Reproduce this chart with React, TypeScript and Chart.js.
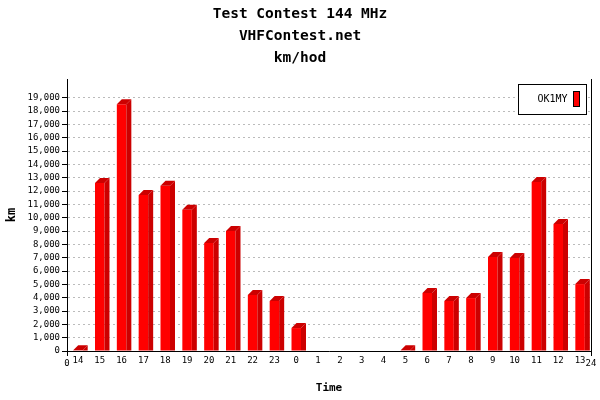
import React, { useEffect, useRef } from 'react';
import { Chart, registerables } from 'chart.js';

Chart.register(...registerables);

const titleLines = ['Test Contest 144 MHz', 'VHFContest.net', 'km/hod'];
const hours = ['14', '15', '16', '17', '18', '19', '20', '21', '22', '23', '0', '1', '2', '3', '4', '5', '6', '7', '8', '9', '10', '11', '12', '13'];
const kmPerHour = [50, 12600, 18500, 11700, 12400, 10600, 8100, 9000, 4200, 3750, 1720, 0, 0, 0, 0, 50, 4350, 3750, 3970, 7050, 6970, 12670, 9520, 5020];
const seriesName = 'OK1MY';
const xTitle = 'Time';
const yTitle = 'km';
const axisEndLabels = ['0', '24'];
const yMax = 20400;
const yStep = 1000;
const yTickMax = 19000;

const MONO = '"DejaVu Sans Mono", monospace';
const FRONT = '#ff0000';
const SIDE = '#cc0000';

const bar3d = {
  id: 'bar3d',
  afterDatasetsDraw(chart: any) {
    const ctx = chart.ctx;
    const meta = chart.getDatasetMeta(0);
    const values = chart.data.datasets[0].data;
    const d = 5;
    ctx.save();
    ctx.fillStyle = SIDE;
    meta.data.forEach((el: any, i: number) => {
      if (!values[i]) return;
      const { x, y, base, width } = el.getProps(['x', 'y', 'base', 'width'], true);
      const l = x - width / 2;
      const r = x + width / 2;
      ctx.beginPath();
      ctx.moveTo(r, y);
      ctx.lineTo(r + d, y - d);
      ctx.lineTo(r + d, base);
      ctx.lineTo(r, base);
      ctx.closePath();
      ctx.fill();
      ctx.beginPath();
      ctx.moveTo(l, y);
      ctx.lineTo(l + d, y - d);
      ctx.lineTo(r + d, y - d);
      ctx.lineTo(r, y);
      ctx.closePath();
      ctx.fill();
    });
    ctx.restore();
  },
};

const frame = {
  id: 'frame',
  afterDraw(chart: any) {
    const ctx = chart.ctx;
    const { left, right, top, bottom } = chart.chartArea;
    ctx.save();
    ctx.strokeStyle = '#000';
    ctx.lineWidth = 1;
    ctx.setLineDash([]);
    ctx.beginPath();
    ctx.moveTo(Math.round(left) + 0.5, bottom);
    ctx.lineTo(Math.round(left) + 0.5, bottom + 5);
    ctx.moveTo(Math.round(right) + 0.5, bottom);
    ctx.lineTo(Math.round(right) + 0.5, bottom + 5);
    ctx.stroke();
    ctx.fillStyle = '#000';
    ctx.font = `9px ${MONO}`;
    ctx.textAlign = 'center';
    ctx.textBaseline = 'middle';
    ctx.fillText(axisEndLabels[0], left, bottom + 13);
    ctx.fillText(axisEndLabels[1], right, bottom + 13);

    // legend
    const bw = 68, bh = 30;
    const bx = Math.round(right) - 5 - bw + 0.5;
    const by = Math.round(top) + 5 + 0.5;
    ctx.fillStyle = '#fff';
    ctx.fillRect(bx, by, bw, bh);
    ctx.strokeRect(bx, by, bw, bh);
    ctx.fillStyle = '#000';
    ctx.font = `10px ${MONO}`;
    ctx.textAlign = 'left';
    ctx.fillText(chart.data.datasets[0].label, bx + 19, by + bh / 2);
    ctx.fillStyle = FRONT;
    ctx.fillRect(bx + 55, by + 7, 6, 15);
    ctx.strokeRect(bx + 55, by + 7, 6, 15);
    ctx.restore();
  },
};

export default function App() {
  const ref = useRef<HTMLCanvasElement | null>(null);
  useEffect(() => {
    if (!ref.current) return;
    const chart = new Chart(ref.current, {
      type: 'bar',
      data: {
        labels: hours,
        datasets: [
          {
            label: seriesName,
            data: kmPerHour,
            backgroundColor: FRONT,
            borderWidth: 0,
            categoryPercentage: 1,
            barPercentage: 0.435,
          },
        ],
      },
      plugins: [bar3d, frame],
      options: {
        responsive: false,
        animation: false,
        devicePixelRatio: 1,
        layout: { padding: { left: 0, right: 0, top: 0, bottom: 0 } },
        plugins: {
          legend: { display: false },
          tooltip: { enabled: false },
          title: {
            display: true,
            text: titleLines,
            color: '#000',
            font: { family: MONO, size: 14.5, weight: 'bold', lineHeight: 22 / 14.5 },
            padding: { top: 3, bottom: 10 },
          },
        },
        scales: {
          x: {
            type: 'category',
            offset: true,
            grid: { display: false, drawTicks: false },
            border: { display: true, color: '#000', width: 1 },
            ticks: { color: '#000', font: { family: MONO, size: 9 }, padding: 4, maxRotation: 0, autoSkip: false },
            title: {
              display: true,
              text: xTitle,
              color: '#000',
              font: { family: MONO, size: 11, weight: 'bold', lineHeight: 1.2 },
              padding: { top: 0, bottom: 5 },
            },
            afterFit: (s: any) => {
              s.height = 49;
            },
          },
          y: {
            type: 'linear',
            min: 0,
            max: yMax,
            grid: {
              color: '#bbbbbb',
              lineWidth: 1,
              tickBorderDash: [],
              tickColor: '#000',
              tickLength: 5,
              drawTicks: true,
            },
            border: { display: true, color: '#000', width: 1, dash: [2, 3] },
            ticks: {
              color: '#000',
              font: { family: MONO, size: 9 },
              padding: 2,
              callback: (v: any) => Number(v).toLocaleString('en-US'),
            },
            afterBuildTicks: (s: any) => {
              const t: any[] = [];
              for (let v = 0; v <= yTickMax; v += yStep) t.push({ value: v });
              s.ticks = t;
            },
            title: {
              display: true,
              text: yTitle,
              color: '#000',
              font: { family: MONO, size: 12, weight: 'bold', lineHeight: 1.2 },
              padding: { top: 5, bottom: 0 },
            },
            afterFit: (s: any) => {
              s.width = 67;
            },
          },
          y2: {
            type: 'linear',
            position: 'right',
            grid: { display: false, drawTicks: false },
            border: { display: true, color: '#000', width: 1 },
            ticks: { display: false },
            afterFit: (s: any) => {
              s.width = 9;
            },
          },
        },
      },
    } as any);
    return () => chart.destroy();
  }, []);
  return (
    <div style={{ position: 'absolute', left: 0, top: 0, width: 600, height: 400, background: '#fff' }}>
      <canvas ref={ref} width={600} height={400} style={{ display: 'block' }} />
    </div>
  );
}
